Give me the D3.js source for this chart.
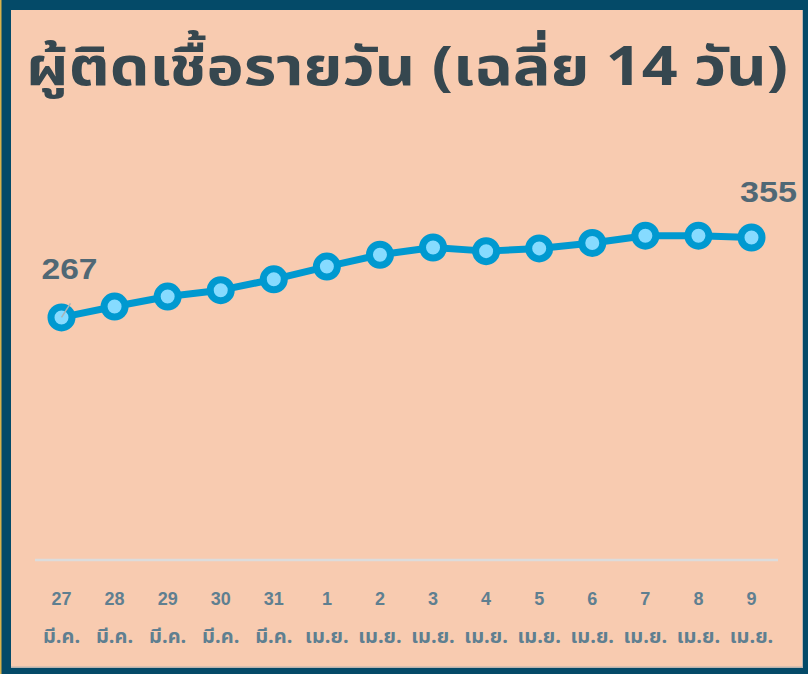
<!DOCTYPE html>
<html>
<head>
<meta charset="utf-8">
<script src="https://cdn.jsdelivr.net/npm/d3@7/dist/d3.min.js"></script>
<style>
  html, body { margin: 0; padding: 0; background: #044a68; }
  svg { display: block; }
</style>
</head>
<body>
<svg id="chart" width="808" height="674"></svg>
<script>
// ---- data ----
const days = ["27", "28", "29", "30", "31", "1", "2", "3", "4", "5", "6", "7", "8", "9"];
const months = ["มี.ค.", "มี.ค.", "มี.ค.", "มี.ค.", "มี.ค.", "เม.ย.", "เม.ย.", "เม.ย.", "เม.ย.", "เม.ย.", "เม.ย.", "เม.ย.", "เม.ย.", "เม.ย."];
const values = [267, 279, 290, 297, 309, 323, 336, 344, 340, 343, 349, 357, 357, 355];
const titleText = "ผู้ติดเชื้อรายวัน (เฉลี่ย 14 วัน)";

const W = 808, H = 674;
const svg = d3.select("#chart");
const thaiFont = "'Noto Sans Thai', 'Noto Sans', 'Liberation Sans', Arial, sans-serif";
const numFont = "'Liberation Sans', Arial, sans-serif";

// frame
svg.append("rect").attr("x", 0).attr("y", 0).attr("width", W).attr("height", H).attr("fill", "#044a68");
svg.append("rect").attr("x", 0).attr("y", 0).attr("width", 1.5).attr("height", H).attr("fill", "#d9b24a");
svg.append("rect").attr("x", 11).attr("y", 10).attr("width", 792).attr("height", 658).attr("fill", "#b9b2ae");
svg.append("rect").attr("x", 11).attr("y", 10).attr("width", 791).attr("height", 656.5).attr("fill", "#f8cbb0");

// title
svg.append("text")
  .attr("x", 26).attr("y", 85)
  .attr("font-family", thaiFont)
  .attr("font-weight", "bold")
  .attr("font-size", 53)
  .attr("fill", "#36474f")
  .attr("textLength", 762)
  .attr("lengthAdjust", "spacingAndGlyphs")
  .text(titleText);

// scales
const x = d3.scalePoint().domain(d3.range(days.length)).range([61.5, 751.5]);
const y = d3.scaleLinear().domain([0, 355]).range([560, 237.5]);

// baseline gridline
svg.append("line")
  .attr("x1", 35).attr("x2", 778)
  .attr("y1", y(0)).attr("y2", y(0))
  .attr("stroke", "#dcdcdc").attr("stroke-width", 2.5);

// x axis labels (two lines)
const xa = svg.append("g");
xa.selectAll("text.day").data(days).join("text")
  .attr("class", "day")
  .attr("x", (d, i) => x(i)).attr("y", 605)
  .attr("text-anchor", "middle")
  .attr("font-family", numFont).attr("font-weight", "bold").attr("font-size", 18)
  .attr("fill", "#5f7f90")
  .text(d => d);
xa.selectAll("text.mon").data(months).join("text")
  .attr("class", "mon")
  .attr("x", (d, i) => x(i)).attr("y", 643)
  .attr("text-anchor", "middle")
  .attr("font-family", thaiFont).attr("font-weight", "bold").attr("font-size", 20)
  .attr("fill", "#5f7f90")
  .text(d => d);

// line
const line = d3.line().x((d, i) => x(i)).y(d => y(d));
svg.append("path").datum(values)
  .attr("d", line)
  .attr("fill", "none")
  .attr("stroke", "#0099d0")
  .attr("stroke-width", 7)
  .attr("stroke-linejoin", "round");

// markers
svg.selectAll("circle.pt").data(values).join("circle")
  .attr("class", "pt")
  .attr("cx", (d, i) => x(i)).attr("cy", d => y(d))
  .attr("r", 10.5)
  .attr("fill", "#86dbff")
  .attr("stroke", "#0099d0")
  .attr("stroke-width", 7);

// leader line for first label
const first = 0, last = values.length - 1;
svg.append("line")
  .attr("x1", x(first)).attr("y1", y(values[first]))
  .attr("x2", x(first) + 9).attr("y2", y(values[first]) - 14)
  .attr("stroke", "#a9b4b8").attr("stroke-width", 1.5);

// value labels
svg.append("text")
  .attr("x", 41.5).attr("y", 279)
  .attr("font-family", numFont).attr("font-weight", "bold").attr("font-size", 30)
  .attr("fill", "#506875")
  .attr("textLength", 56).attr("lengthAdjust", "spacingAndGlyphs")
  .text(values[first]);
svg.append("text")
  .attr("x", 797).attr("y", 202)
  .attr("text-anchor", "end")
  .attr("font-family", numFont).attr("font-weight", "bold").attr("font-size", 30)
  .attr("fill", "#506875")
  .attr("textLength", 57).attr("lengthAdjust", "spacingAndGlyphs")
  .text(values[last]);
</script>
</body>
</html>
